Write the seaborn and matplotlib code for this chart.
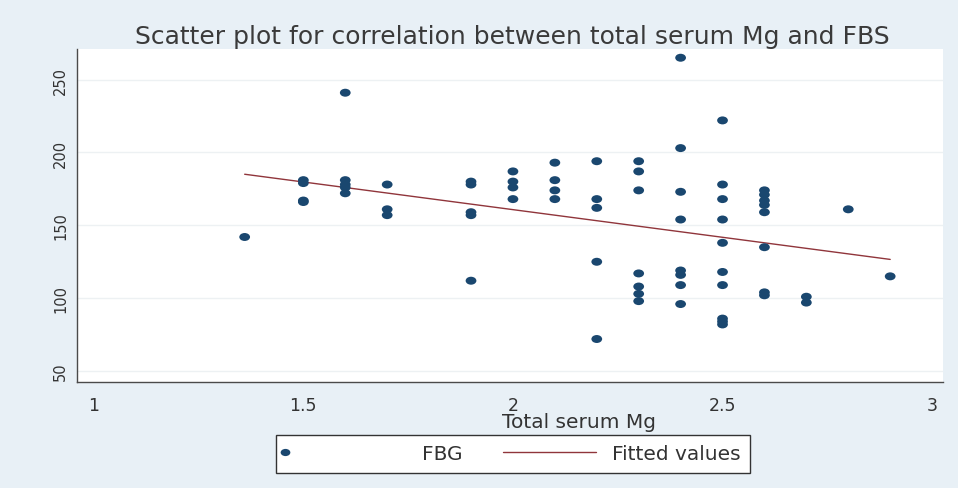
import numpy as np
import pandas as pd
import matplotlib
matplotlib.use('Agg')
import matplotlib.pyplot as plt
import seaborn as sns
from matplotlib.lines import Line2D
from matplotlib.legend_handler import HandlerLine2D
from matplotlib.path import Path
from matplotlib.transforms import Affine2D

################################################################
# data:
mg_1_36 = [142]
mg_1_5 = [181, 179, 167, 166]
mg_1_6 = [241, 181, 178, 176, 172]
mg_1_7 = [178, 161, 157]
mg_1_9 = [180, 178, 159, 157, 112]
mg_2_0 = [187, 180, 176, 168]
mg_2_1 = [193, 181, 174, 168]
mg_2_2 = [194, 168, 162, 125, 72]
mg_2_3 = [194, 187, 174, 117, 108, 103, 98]
mg_2_4 = [265, 203, 173, 154, 119, 116, 109, 96]
mg_2_5 = [222, 178, 168, 154, 138, 118, 109, 86, 84, 82]
mg_2_6 = [174, 171, 167, 164, 159, 135, 104, 102]
mg_2_7 = [101, 97]
mg_2_8 = [161]
mg_2_9 = [115]

mg_levels = [1.36, 1.5, 1.6, 1.7, 1.9, 2.0, 2.1, 2.2, 2.3, 2.4, 2.5, 2.6, 2.7, 2.8, 2.9]
fbg_groups = [mg_1_36, mg_1_5, mg_1_6, mg_1_7, mg_1_9, mg_2_0, mg_2_1, mg_2_2,
              mg_2_3, mg_2_4, mg_2_5, mg_2_6, mg_2_7, mg_2_8, mg_2_9]

x_ticks = [1, 1.5, 2, 2.5, 3]
x_tick_labels = ['1', '1.5', '2', '2.5', '3']
y_ticks = [50, 100, 150, 200, 250]

rows = []
for lvl, vals in zip(mg_levels, fbg_groups):
    for v in vals:
        rows.append({'mg': lvl, 'fbg': v})
df = pd.DataFrame(rows)

################################################################
# style:
sns.set_style('white')
plt.rcParams['font.family'] = ['DejaVu Sans']

bg = '#e8f0f6'
navy = '#1a476f'
maroon = '#90353b'
axcol = '#4a4a4a'

W, H = 958, 489
fig = plt.figure(figsize=(W / 100, H / 100), dpi=100, facecolor=bg)
ax = fig.add_axes([77 / W, (H - 383) / H, 866 / W, 333 / H])
ax.set_facecolor('white')

# stretched dot like the stata export
dot = Path.unit_circle().transformed(Affine2D().scale(1.35, 1.0))

sns.regplot(data=df, x='mg', y='fbg', scatter=False, ci=None, truncate=True,
            line_kws=dict(color=maroon, lw=1), ax=ax)
sns.scatterplot(data=df, x='mg', y='fbg', marker=dot, s=60, color=navy,
                edgecolor='none', legend=False, ax=ax, zorder=3)

ax.set_xlim(0.96, 3.026)
ax.set_ylim(42.5, 271)
ax.set_xticks(x_ticks)
ax.set_xticklabels(x_tick_labels)
ax.set_yticks(y_ticks)
ax.yaxis.grid(True, color='#edf1f3', lw=1)
ax.set_axisbelow(True)

for s in ['top', 'right']:
    ax.spines[s].set_visible(False)
for s in ['left', 'bottom']:
    ax.spines[s].set_color(axcol)
    ax.spines[s].set_linewidth(1)
ax.tick_params(axis='both', direction='out', length=5, width=1, color=axcol,
               labelcolor='#333333')
ax.tick_params(axis='x', labelsize=12.5, pad=5)
ax.tick_params(axis='y', labelsize=10.5, pad=1.5)
for lab in ax.get_yticklabels():
    lab.set_rotation(90)
    lab.set_va('center')

ax.set_xlabel('Total serum Mg', fontsize=14.5, color='#333333')
ax.xaxis.set_label_coords((579 - 77) / 866, -0.09)
ax.set_ylabel('')

fig.text(512 / W, 1 - 37 / H,
         'Scatter plot for correlation between total serum Mg and FBS',
         ha='center', va='center', fontsize=18, color='#3a3a3a')

################################################################
# legend:
class DotLeft(HandlerLine2D):
    def get_xdata(self, legend, xdescent, ydescent, width, height, fontsize):
        xd = np.array([-xdescent - 0.04 * width, -xdescent + 0.04 * width])
        return xd, xd[:1]

class LineRight(HandlerLine2D):
    def get_xdata(self, legend, xdescent, ydescent, width, height, fontsize):
        xd = np.array([-xdescent + 0.22 * width, -xdescent + 0.95 * width])
        return xd, xd[:1]

h_dot = Line2D([], [], ls='none', marker=dot, ms=7, color=navy, mec='none')
h_line = Line2D([], [], color=maroon, lw=1)
fs = 14.5
leg = fig.legend([h_dot, h_line], ['FBG', 'Fitted values'],
                 handler_map={h_dot: DotLeft(), h_line: LineRight()},
                 loc='center', bbox_to_anchor=(513 / W, 1 - 455 / H),
                 bbox_transform=fig.transFigure, ncol=2, fontsize=fs,
                 handlelength=6.3, handletextpad=0.5, columnspacing=0.6,
                 borderpad=0.45, frameon=True, fancybox=False, framealpha=1)
leg.get_frame().set_edgecolor('#333333')
leg.get_frame().set_linewidth(1)
leg.get_frame().set_facecolor('white')
for t in leg.get_texts():
    t.set_color('#333333')

plt.savefig('out.png', dpi=100, facecolor=bg)
